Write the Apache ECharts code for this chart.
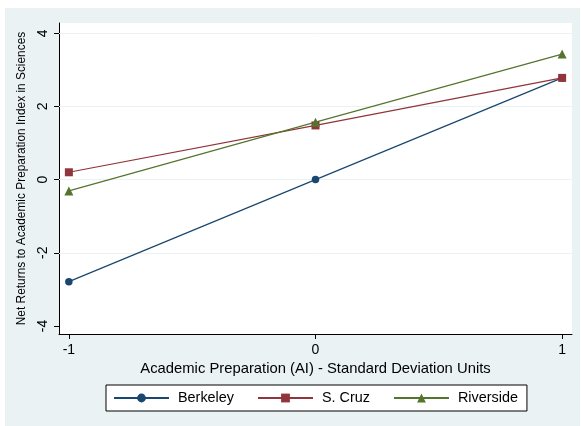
<!DOCTYPE html>
<html>
<head>
<meta charset="utf-8">
<script src="https://cdn.jsdelivr.net/npm/echarts@6/dist/echarts.min.js"></script>
<style>
  html, body { margin: 0; padding: 0; background: #ffffff; }
  #chart { width: 581px; height: 426px; }
</style>
</head>
<body>
<div id="chart"></div>
<script>
// Academic preparation levels (standard deviation units)
var xValues = [-1, 0, 1];

// Net returns to the academic preparation index in sciences, by campus
var berkeley = [-2.79, 0.0, 2.78];
var sCruz = [0.20, 1.48, 2.78];
var riverside = [-0.31, 1.57, 3.43];

// Tick positions
var xTicks = [-1, 0, 1];
var yTicks = [-4, -2, 0, 2, 4];
var yGridLines = [-2, 0, 2, 4];

var FONT = '"Liberation Sans", Arial, Helvetica, sans-serif';

function pairs(ys) {
  return xValues.map(function (x, i) { return [x, ys[i]]; });
}

function lineSeries(name, ys, color, symbol, size) {
  return {
    name: name,
    type: 'line',
    data: pairs(ys),
    symbol: symbol,
    symbolSize: size,
    lineStyle: { color: color, width: 1.2 },
    itemStyle: { color: color },
    emphasis: { disabled: true },
    animation: false,
    z: 3
  };
}

var chart = echarts.init(document.getElementById('chart'), null, { renderer: 'canvas' });

var series = [
  lineSeries('Berkeley', berkeley, '#1a476f', 'circle', 7.5),
  lineSeries('S. Cruz', sCruz, '#90353b', 'rect', 8),
  lineSeries('Riverside', riverside, '#55752f', 'triangle', 9)
];

// light horizontal grid lines at the labelled y values
series[0].markLine = {
  silent: true,
  symbol: ['none', 'none'],
  label: { show: false },
  lineStyle: { color: '#eaf2f3', width: 1, type: 'solid' },
  data: yGridLines.map(function (v) { return { yAxis: v }; }),
  z: 1
};

chart.setOption({
  backgroundColor: '#eaf2f3',
  animation: false,
  graphic: [
    { type: 'rect', shape: { x: 0, y: 0, width: 581, height: 8 }, style: { fill: '#ffffff' }, silent: true },
    { type: 'rect', shape: { x: 0, y: 0, width: 5, height: 426 }, style: { fill: '#ffffff' }, silent: true },
    { type: 'rect', shape: { x: 580, y: 0, width: 1, height: 426 }, style: { fill: '#ffffff' }, silent: true }
  ],
  grid: {
    left: 59,
    right: 9,
    top: 23,
    bottom: 92,
    show: true,
    backgroundColor: '#ffffff',
    borderWidth: 0,
    containLabel: false
  },
  xAxis: {
    type: 'value',
    min: -1.04,
    max: 1.04,
    name: 'Academic Preparation (AI) - Standard Deviation Units',
    nameLocation: 'middle',
    nameGap: 26,
    nameTextStyle: { fontFamily: FONT, fontSize: 14.8, color: '#000' },
    axisLine: { show: true, onZero: false, lineStyle: { color: '#000', width: 1 } },
    axisTick: { show: true, length: 5, customValues: xTicks, lineStyle: { color: '#000' } },
    axisLabel: { customValues: xTicks, margin: 9, fontFamily: FONT, fontSize: 14, color: '#000' },
    splitLine: { show: false }
  },
  yAxis: {
    type: 'value',
    min: -4.22,
    max: 4.28,
    name: 'Net Returns to Academic Preparation Index in Sciences',
    nameLocation: 'middle',
    nameGap: 26,
    nameRotate: 90,
    nameTextStyle: { fontFamily: FONT, fontSize: 11.9, color: '#000' },
    axisLine: { show: true, onZero: false, lineStyle: { color: '#000', width: 1 } },
    axisTick: { show: true, length: 5, customValues: yTicks, lineStyle: { color: '#000' } },
    axisLabel: { customValues: yTicks, rotate: 90, margin: 9, fontFamily: FONT, fontSize: 14, color: '#000' },
    splitLine: { show: false }
  },
  legend: {
    data: ['Berkeley', 'S. Cruz', 'Riverside'],
    left: 106,
    top: 385,
    orient: 'horizontal',
    backgroundColor: '#ffffff',
    borderColor: '#000000',
    borderWidth: 1,
    borderRadius: 0,
    padding: [6, 9, 6, 7],
    itemWidth: 55,
    itemHeight: 11,
    itemGap: 23,
    selectedMode: false,
    textStyle: { fontFamily: FONT, fontSize: 14.4, color: '#000', padding: [0, 0, 0, 4] }
  },
  series: series
});
</script>
</body>
</html>
